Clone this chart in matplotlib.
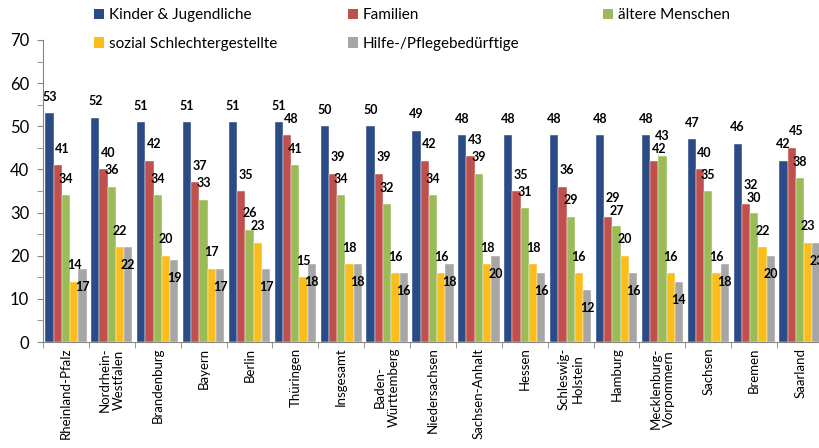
import matplotlib

matplotlib.use("Agg")

import numpy as np
import matplotlib.pyplot as plt
from matplotlib.patches import Patch
from matplotlib.ticker import MultipleLocator

plt.rcParams["font.family"] = ["Lato", "DejaVu Sans"]

regions = [
    "Rheinland-Pfalz", "Nordrhein-\nWestfalen", "Brandenburg", "Bayern", "Berlin",
    "Thüringen", "Insgesamt", "Baden-\nWürttemberg", "Niedersachsen", "Sachsen-Anhalt",
    "Hessen", "Schleswig-\nHolstein", "Hamburg", "Mecklenburg-\nVorpommern", "Sachsen",
    "Bremen", "Saarland",
]

kinder = [53, 52, 51, 51, 51, 51, 50, 50, 49, 48, 48, 48, 48, 48, 47, 46, 42]
familien = [41, 40, 42, 37, 35, 48, 39, 39, 42, 43, 35, 36, 29, 42, 40, 32, 45]
aeltere = [34, 36, 34, 33, 26, 41, 34, 32, 34, 39, 31, 29, 27, 43, 35, 30, 38]
sozial = [14, 22, 20, 17, 23, 15, 18, 16, 16, 18, 18, 16, 20, 16, 16, 22, 23]
hilfe = [17, 22, 19, 17, 17, 18, 18, 16, 18, 20, 16, 12, 16, 14, 18, 20, 23]

names = ["Kinder & Jugendliche", "Familien", "ältere Menschen",
         "sozial Schlechtergestellte", "Hilfe-/Pflegebedürftige"]
colors = ["#2a4b85", "#c0504d", "#9bbb59", "#fbbd1c", "#a6a6a6"]
data = [kinder, familien, aeltere, sozial, hilfe]

fig = plt.figure(figsize=(8.19, 4.48), dpi=100)
ax = fig.add_axes([43 / 819, 106 / 448, 780 / 819, 302 / 448])

x = np.arange(len(regions))
width = 0.18
for k in range(5):
    ax.bar(x + (k - 2) * width, data[k], width, color=colors[k],
           edgecolor="white", linewidth=0.3)

# data labels: above the bar for the first four series, inside for the grey one,
# pushing neighbours apart when they would collide
for i in range(len(regions)):
    ys = [data[k][i] + 3.8 for k in range(4)]
    for k in range(1, 4):
        if abs(ys[k] - ys[k - 1]) < 2.8:
            mid = (ys[k] + ys[k - 1]) / 2
            if data[k][i] >= data[k - 1][i]:
                ys[k], ys[k - 1] = mid + 1.5, mid - 1.5
            else:
                ys[k], ys[k - 1] = mid - 1.5, mid + 1.5
    for k in range(4):
        dx = 0.1 if k == 1 else 0
        ax.text(x[i] + (k - 2) * width + dx, ys[k], str(data[k][i]),
                ha="center", va="center", fontsize=9, fontweight="bold")
    ax.text(x[i] + 2 * width, hilfe[i] - 4.2, str(hilfe[i]),
            ha="center", va="center", fontsize=9, fontweight="bold")

ax.set_xlim(-0.5, len(regions) - 0.5)
ax.set_ylim(0, 70)
ax.yaxis.set_major_locator(MultipleLocator(10))
ax.yaxis.set_minor_locator(MultipleLocator(5))
ax.tick_params(axis="y", which="both", direction="out", length=4,
               color="#868686", labelsize=12, pad=6)

ax.set_xticks(x)
ax.set_xticklabels(regions, rotation=90, fontsize=9.5,
                   multialignment="center", va="top")
ax.set_xticks(np.arange(-0.5, len(regions)), minor=True)
ax.tick_params(axis="x", which="major", length=0, pad=4)
ax.tick_params(axis="x", which="minor", direction="out", length=4,
               color="#868686")

for side in ("top", "right"):
    ax.spines[side].set_visible(False)
for side in ("left", "bottom"):
    ax.spines[side].set_color("#868686")

# legend: three columns placed like the original
columns = [[0, 3], [1, 4], [2]]
col_x = [80, 334, 589]
for idx, cx in zip(columns, col_x):
    handles = [Patch(facecolor=colors[k]) for k in idx]
    fig.legend(handles, [names[k] for k in idx], loc="upper left",
               bbox_to_anchor=(cx / 819, 1.012), frameon=False, fontsize=11,
               handlelength=0.7, handleheight=0.7, handletextpad=0.3,
               labelspacing=0.95)

plt.savefig("out.png", dpi=100)
plt.close()
